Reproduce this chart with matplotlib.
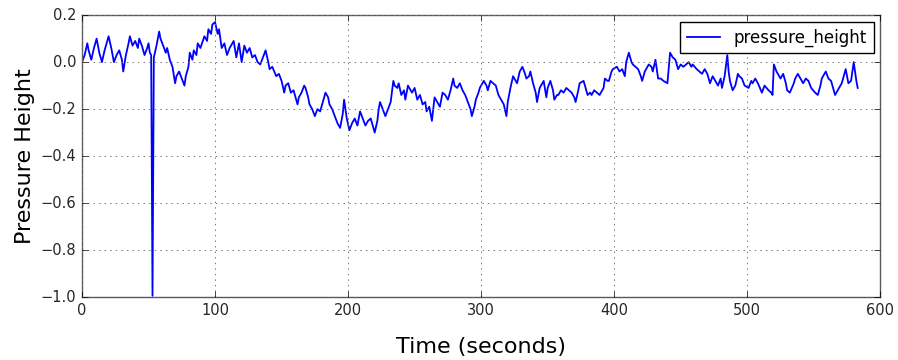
import matplotlib
matplotlib.use('Agg')
from matplotlib import pyplot as plt

# values (seconds, pressure height)
time_s = [0, 2, 4, 5, 7, 9, 11, 13, 15, 17, 20, 22, 24, 26, 28, 30, 31, 33, 35, 36,
          38, 40, 42, 43, 45, 47, 49, 50, 51, 52, 53, 54, 56, 58, 59, 61, 63, 64, 66, 68,
          70, 71, 73, 75, 77, 78, 80, 81, 83, 84, 86, 87, 89, 92, 94, 95, 97, 98, 100, 102,
          103, 105, 107, 109, 111, 114, 116, 118, 120, 122, 124, 126, 128, 130, 132, 134, 136, 138, 140, 141,
          143, 146, 148, 150, 152, 153, 155, 157, 159, 162, 163, 165, 167, 168, 170, 171, 173, 175, 177, 179,
          181, 183, 185, 186, 188, 190, 192, 194, 196, 197, 199, 201, 203, 205, 207, 209, 211, 213, 215, 217,
          219, 220, 222, 223, 224, 226, 228, 230, 232, 234, 235, 237, 238, 240, 242, 243, 245, 247, 248, 250,
          252, 254, 256, 258, 259, 261, 263, 265, 267, 269, 271, 273, 275, 277, 279, 280, 282, 284, 286, 288,
          290, 292, 293, 295, 296, 298, 299, 302, 304, 305, 307, 309, 311, 313, 314, 317, 319, 320, 322, 324,
          326, 327, 329, 331, 333, 334, 336, 337, 339, 341, 342, 344, 345, 347, 349, 350, 352, 354, 355, 357,
          358, 360, 362, 364, 366, 368, 370, 371, 373, 374, 377, 379, 380, 382, 383, 385, 387, 389, 391, 392,
          393, 395, 396, 398, 399, 402, 404, 406, 408, 409, 411, 413, 414, 416, 418, 420, 421, 423, 426, 428,
          429, 431, 433, 435, 437, 440, 442, 444, 446, 448, 450, 452, 454, 456, 458, 459, 462, 464, 466, 468,
          470, 472, 474, 476, 478, 480, 481, 483, 485, 486, 487, 489, 491, 493, 494, 496, 498, 501, 503, 504,
          506, 508, 511, 513, 516, 518, 519, 520, 522, 524, 525, 527, 529, 530, 532, 535, 536, 538, 540, 542,
          544, 546, 548, 551, 553, 555, 556, 559, 561, 563, 564, 566, 568, 570, 571, 574, 576, 578, 580, 582,
          583]

pressure_height = [0.00, 0.03, 0.08, 0.05, 0.01, 0.06, 0.10, 0.04, 0.00, 0.05, 0.11, 0.06, 0.00, 0.03, 0.05, 0.01, -0.04, 0.03, 0.08, 0.11,
                   0.07, 0.09, 0.06, 0.10, 0.07, 0.03, 0.06, 0.08, 0.04, 0.03, -0.995, 0.02, 0.07, 0.13, 0.10, 0.07, 0.04, 0.06, 0.01, -0.02,
                   -0.09, -0.06, -0.04, -0.07, -0.10, -0.06, -0.02, 0.04, 0.01, 0.05, 0.03, 0.08, 0.06, 0.11, 0.09, 0.14, 0.12, 0.16, 0.17, 0.12,
                   0.14, 0.06, 0.08, 0.03, 0.06, 0.09, 0.02, 0.08, 0.00, 0.07, 0.04, 0.06, 0.02, 0.03, 0.00, -0.01, 0.02, 0.05, 0.00, -0.03,
                   -0.02, -0.06, -0.05, -0.08, -0.13, -0.10, -0.09, -0.13, -0.12, -0.18, -0.15, -0.13, -0.10, -0.11, -0.15, -0.18, -0.20, -0.23, -0.20, -0.21,
                   -0.17, -0.13, -0.15, -0.18, -0.20, -0.23, -0.26, -0.28, -0.22, -0.16, -0.24, -0.29, -0.26, -0.24, -0.27, -0.21, -0.24, -0.27, -0.25, -0.24,
                   -0.28, -0.30, -0.25, -0.20, -0.17, -0.20, -0.23, -0.20, -0.17, -0.08, -0.10, -0.11, -0.09, -0.14, -0.12, -0.16, -0.10, -0.12, -0.13, -0.11,
                   -0.16, -0.14, -0.18, -0.17, -0.21, -0.19, -0.25, -0.15, -0.17, -0.19, -0.13, -0.14, -0.16, -0.12, -0.07, -0.10, -0.11, -0.09, -0.12, -0.14,
                   -0.17, -0.20, -0.23, -0.19, -0.16, -0.13, -0.11, -0.08, -0.10, -0.12, -0.08, -0.09, -0.10, -0.14, -0.15, -0.18, -0.23, -0.17, -0.11, -0.06,
                   -0.08, -0.09, -0.04, -0.02, -0.05, -0.07, -0.06, -0.04, -0.09, -0.13, -0.17, -0.11, -0.10, -0.08, -0.15, -0.11, -0.08, -0.12, -0.16, -0.14,
                   -0.14, -0.12, -0.13, -0.11, -0.12, -0.13, -0.15, -0.17, -0.12, -0.09, -0.08, -0.12, -0.14, -0.13, -0.14, -0.12, -0.13, -0.14, -0.12, -0.11,
                   -0.07, -0.08, -0.08, -0.04, -0.03, -0.02, -0.04, -0.03, -0.06, 0.00, 0.04, 0.00, -0.01, -0.02, -0.03, -0.06, -0.08, -0.04, -0.01, -0.02,
                   -0.04, 0.01, -0.07, -0.07, -0.08, -0.09, 0.04, 0.02, 0.01, -0.03, -0.01, -0.02, -0.01, 0.00, -0.02, -0.01, -0.03, -0.04, -0.05, -0.03,
                   -0.05, -0.09, -0.06, -0.08, -0.10, -0.07, -0.11, -0.06, 0.03, -0.04, -0.08, -0.12, -0.10, -0.05, -0.06, -0.07, -0.10, -0.11, -0.08, -0.09,
                   -0.07, -0.09, -0.13, -0.10, -0.12, -0.13, -0.14, -0.01, -0.04, -0.06, -0.07, -0.05, -0.09, -0.12, -0.13, -0.09, -0.07, -0.05, -0.07, -0.09,
                   -0.07, -0.08, -0.11, -0.13, -0.14, -0.10, -0.07, -0.04, -0.07, -0.08, -0.10, -0.14, -0.12, -0.10, -0.09, -0.03, -0.09, -0.08, 0.00, -0.08,
                   -0.11]

x_ticks = [0, 100, 200, 300, 400, 500, 600]
y_ticks = [0.2, 0.0, -0.2, -0.4, -0.6, -0.8, -1.0]

plt.style.use('classic')
fig = plt.figure(figsize=(8.98, 3.6), dpi=100, facecolor='white')
ax = fig.add_axes([0.0913, 0.175, 0.889, 0.783])
ax.set_facecolor('white')

ax.plot(time_s, pressure_height, color='b', linewidth=1.3, label='pressure_height')

ax.set_xlim(0, 600)
ax.set_ylim(-1.0, 0.2)
ax.set_xticks(x_ticks)
ax.set_yticks(y_ticks)
ax.tick_params(labelsize=10.5, labelcolor='0.15')
ax.grid(True, linestyle=':', color='0.45', linewidth=0.7)
for sp in ax.spines.values():
    sp.set_color('0.35')

ax.set_xlabel('Time (seconds)', fontsize=16, labelpad=14)
ax.set_ylabel('Pressure Height', fontsize=16, labelpad=4)
ax.legend(loc='upper right', fontsize=12, numpoints=1, borderaxespad=0.4)

fig.savefig('out.png', dpi=100, facecolor='white')
